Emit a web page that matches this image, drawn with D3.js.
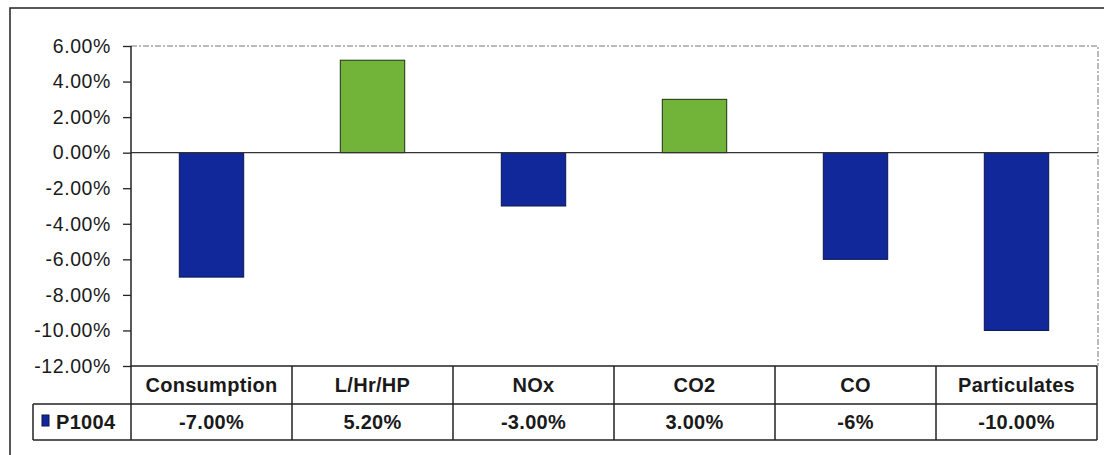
<!DOCTYPE html>
<html><head><meta charset="utf-8">
<script src="https://cdn.jsdelivr.net/npm/d3@7"></script>
<style>body{margin:0;background:#fff}svg{display:block}text{font-family:"Liberation Sans",Arial,sans-serif;fill:#1a1a1a}</style>
</head><body>
<svg id="c" width="1104" height="455"></svg>
<script>
const categories = ["Consumption","L/Hr/HP","NOx","CO2","CO","Particulates"];
const values = [-7.0, 5.2, -3.0, 3.0, -6.0, -10.0];
const valueLabels = ["-7.00%","5.20%","-3.00%","3.00%","-6%","-10.00%"];
const yTicks = [6,4,2,0,-2,-4,-6,-8,-10,-12];
const seriesName = "P1004";

const svg = d3.select("#c");
const L = 131, R = 1097, T = 46, B = 366;
const hdrB = 404, tblB = 440, legL = 33;

// outer frame
svg.append("path").attr("d","M10,460 L10,8 L1110,8").attr("fill","none").attr("stroke","#222").attr("stroke-width",1.5);

const x = d3.scaleBand().domain(categories).range([L,R]).paddingInner(0.6).paddingOuter(0.3);
const y = d3.scaleLinear().domain([-12,6]).range([B,T]);

// plot area dashed top/right border
svg.append("path").attr("d",`M${L},${T} L${R+1},${T} L${R+1},${B}`).attr("fill","none")
  .attr("stroke","#777").attr("stroke-width",1).attr("stroke-dasharray","6,2,2,2");

// bars
svg.selectAll("rect.bar").data(values).enter().append("rect")
  .attr("x",(d,i)=>x(categories[i]))
  .attr("width",x.bandwidth())
  .attr("y",d=>y(Math.max(0,d)))
  .attr("height",d=>Math.abs(y(d)-y(0)))
  .attr("fill",d=>d>=0?"#72b43a":"#10289a")
  .attr("stroke",d=>d>=0?"#1d3010":"#0a1450").attr("stroke-width",1);

// zero line
svg.append("line").attr("x1",L).attr("x2",R+1).attr("y1",y(0)).attr("y2",y(0)).attr("stroke","#333").attr("stroke-width",1.2);

// y axis
const fmt = d3.format(".2f");
const ya = d3.axisLeft(y).tickValues(yTicks).tickSize(8).tickPadding(12)
  .tickFormat(d=>fmt(d).replace("\u2212","-")+"%");
const g = svg.append("g").attr("transform",`translate(${L},0)`).call(ya);
g.select(".domain").remove();
g.selectAll(".tick line").attr("stroke","#222").attr("stroke-width",1.3);
g.selectAll(".tick text").style("font-size","19.5px").style("letter-spacing","0.6px").attr("fill","#1a1a1a");
svg.append("line").attr("x1",L).attr("x2",L).attr("y1",T).attr("y2",tblB).attr("stroke","#222").attr("stroke-width",1.5);

// data table
const tl = (x1,y1,x2,y2)=>svg.append("line").attr("x1",x1).attr("y1",y1).attr("x2",x2).attr("y2",y2).attr("stroke","#222").attr("stroke-width",1.5);
tl(L,B,R,B); tl(legL,hdrB,R,hdrB); tl(legL,tblB,R,tblB);
tl(legL,hdrB,legL,tblB); tl(R,B,R,tblB);
const step = x.step();
categories.forEach((c,i)=>{ if(i>0){ const xx = L+step*i; tl(xx,B,xx,tblB);} });

const tStyle = s=>s.style("font-size","20px").style("font-weight","bold").style("letter-spacing","0.3px");
tStyle(svg.selectAll("text.hdr").data(categories).enter().append("text")
  .attr("x",(d,i)=>L+step*(i+0.5)).attr("y",(B+hdrB)/2+7).attr("text-anchor","middle").text(d=>d));
tStyle(svg.selectAll("text.val").data(valueLabels).enter().append("text")
  .attr("x",(d,i)=>L+step*(i+0.5)).attr("y",(hdrB+tblB)/2+7).attr("text-anchor","middle").text(d=>d));

// legend key
svg.append("rect").attr("x",42).attr("y",415).attr("width",7).attr("height",11).attr("fill","#10289a").attr("stroke","#0a1450");
tStyle(svg.append("text").attr("x",56).attr("y",(hdrB+tblB)/2+7).text(seriesName));
</script>
</body></html>
